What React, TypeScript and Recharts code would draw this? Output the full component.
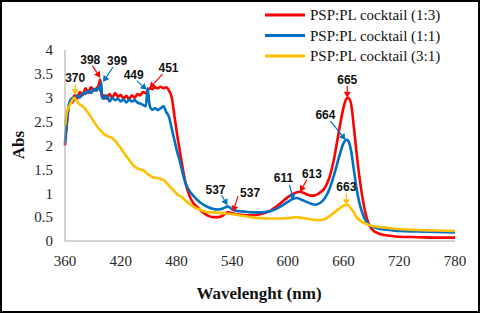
import React from 'react';
import { LineChart, Line, XAxis, YAxis, ReferenceDot, Label } from 'recharts';

const wavelengths = [
  360, 362, 364, 366, 368, 370, 373, 376, 379, 382,
  385, 388, 391, 394, 396, 398, 399, 400, 402, 405,
  408, 411, 414, 417, 420, 423, 426, 429, 432, 435,
  438, 441, 444, 447, 449, 451, 454, 457, 460, 463,
  466, 469, 472, 475, 478, 481, 484, 487, 490, 494,
  498, 502, 506, 510, 515, 520, 525, 530, 535, 537,
  540, 545, 550, 555, 560, 570, 580, 590, 600, 605,
  610, 613, 620, 625, 630, 635, 640, 645, 650, 655,
  660, 663, 665, 668, 671, 674, 677, 680, 684, 688,
  692, 696, 700, 710, 720, 740, 760, 780,
];

const cocktail13 = [
  2.0, 2.45, 2.8, 2.95, 2.9, 3.05, 2.98, 3.12, 3.05, 3.2,
  3.1, 3.22, 3.15, 3.2, 3.25, 3.38, 3.1, 3.02, 3.05, 2.98,
  3.08, 3.0, 3.1, 3.02, 3.06, 2.98, 3.04, 2.97, 3.05, 3.0,
  3.08, 3.05, 3.12, 3.1, 3.15, 3.2, 3.18, 3.22, 3.2, 3.23,
  3.2, 3.22, 3.15, 3.0, 2.6, 2.2, 1.85, 1.5, 1.2, 0.95,
  0.8, 0.72, 0.64, 0.58, 0.52, 0.5, 0.5, 0.53, 0.6, 0.6,
  0.58, 0.56, 0.55, 0.54, 0.54, 0.56, 0.62, 0.76, 0.92, 0.98,
  1.02, 1.03, 0.98, 0.95, 0.96, 1.02, 1.12, 1.35, 1.75, 2.3,
  2.8, 2.98, 3.0, 2.88, 2.4, 1.85, 1.35, 0.95, 0.55, 0.32,
  0.22, 0.17, 0.14, 0.11, 0.09, 0.08, 0.07, 0.07,
];

const cocktail11 = [
  2.05, 2.5, 2.85, 2.95, 3.0, 2.95, 3.05, 3.0, 3.1, 3.08,
  3.15, 3.1, 3.18, 3.15, 3.22, 3.15, 3.33, 3.0, 2.98, 3.05,
  2.92, 3.0, 2.95, 2.98, 2.92, 2.97, 2.9, 2.96, 2.92, 2.95,
  2.9, 2.88, 2.85, 2.82, 3.2, 2.85, 2.75, 2.78, 2.74, 2.78,
  2.82, 2.7, 2.6, 2.35, 2.1, 1.85, 1.65, 1.4, 1.2, 1.05,
  0.95, 0.87, 0.8, 0.75, 0.7, 0.67, 0.66, 0.68, 0.72, 0.71,
  0.66, 0.63, 0.62, 0.61, 0.6, 0.6, 0.62, 0.7, 0.82, 0.88,
  0.9, 0.88, 0.82, 0.78, 0.76, 0.8, 0.9, 1.1, 1.4, 1.75,
  2.05, 2.12, 2.1, 1.9, 1.5, 1.1, 0.8, 0.6, 0.42, 0.33,
  0.29, 0.27, 0.25, 0.23, 0.21, 0.2, 0.19, 0.18,
];

const cocktail31 = [
  2.4, 2.7, 2.8, 2.88, 2.95, 3.0, 2.92, 2.86, 2.82, 2.76,
  2.68, 2.6, 2.5, 2.42, 2.36, 2.32, 2.3, 2.28, 2.24, 2.2,
  2.18, 2.15, 2.1, 2.02, 1.95, 1.86, 1.78, 1.7, 1.62, 1.56,
  1.52, 1.5, 1.48, 1.44, 1.4, 1.38, 1.34, 1.32, 1.32, 1.3,
  1.28, 1.22, 1.16, 1.1, 1.04, 0.98, 0.94, 0.9, 0.84, 0.78,
  0.72, 0.68, 0.65, 0.62, 0.6, 0.6, 0.59, 0.58, 0.57, 0.57,
  0.56, 0.55, 0.53, 0.52, 0.5, 0.48, 0.47, 0.47, 0.48, 0.49,
  0.5, 0.49, 0.47, 0.45, 0.44, 0.44, 0.46, 0.52, 0.6, 0.67,
  0.74, 0.76, 0.75, 0.68, 0.6, 0.5, 0.44, 0.4, 0.36, 0.33,
  0.31, 0.3, 0.29, 0.27, 0.25, 0.23, 0.22, 0.21,
];

const xTicks = [360, 420, 480, 540, 600, 660, 720, 780];
const yTicks = [0, 0.5, 1, 1.5, 2, 2.5, 3, 3.5, 4];

const seriesNames = ['PSP:PL cocktail (1:3)', 'PSP:PL cocktail (1:1)', 'PSP:PL cocktail (3:1)'];

// peak markers: label, wavelength, absorbance at arrow tip, which series
const peakLabels = ['370', '398', '399', '449', '451', '537', '537', '611', '613', '664', '665', '663'];
const peakNm = [371, 398, 401, 448, 451, 535, 541, 606, 613, 662, 664, 663];
const peakAbs = [3.05, 3.42, 3.33, 3.17, 3.2, 0.75, 0.61, 0.86, 1.03, 2.12, 3.0, 0.75];
const peakSeries = [2, 0, 1, 1, 0, 1, 0, 1, 0, 1, 0, 2];

const COLORS = ['#ff0000', '#0070c0', '#ffc000'];

// label offset (dx, dy) and arrow start offset (sx, sy) relative to the tip, px
const peakLayout = [
  [0, -17, 0, -11],
  [-10, -18, -8, -12],
  [14, -21, 10, -15],
  [-13, -15, -10, -9],
  [19, -20, 13, -14],
  [-12, -15, -6, -10],
  [17, -19, 5, -16],
  [-10, -22, -4, -15],
  [12, -18, 7, -12],
  [-20, -25, -15, -19],
  [0, -18, 0, -12],
  [0, -18, 0, -12],
];

const data = wavelengths.map((nm, i) => ({
  nm,
  a: cocktail13[i],
  b: cocktail11[i],
  c: cocktail31[i],
}));

const serif = "'Liberation Serif', 'Times New Roman', serif";

const Marker = (props: any) => {
  const { cx, cy, idx } = props;
  if (cx == null || cy == null) return null;
  const [dx, dy, sx, sy] = peakLayout[idx];
  const color = COLORS[peakSeries[idx]];
  const x1 = cx + sx;
  const y1 = cy + sy;
  const ang = Math.atan2(cy - y1, cx - x1);
  const len = 6;
  const w = 3.5;
  const bx = cx - len * Math.cos(ang);
  const by = cy - len * Math.sin(ang);
  const px = -Math.sin(ang) * w;
  const py = Math.cos(ang) * w;
  return (
    <g>
      <line x1={x1} y1={y1} x2={bx} y2={by} stroke={color} strokeWidth={1.2} />
      <polygon points={`${cx},${cy} ${bx + px},${by + py} ${bx - px},${by - py}`} fill={color} />
      <text
        x={cx + dx}
        y={cy + dy}
        textAnchor="middle"
        dominantBaseline="central"
        fontFamily="'Liberation Sans', Arial, sans-serif"
        fontWeight="bold"
        fontSize={12}
        fill="#111"
      >
        {peakLabels[idx]}
      </text>
    </g>
  );
};

const LegendBox = () => (
  <svg width={215} height={64} style={{ position: 'absolute', left: 262, top: 4 }}>
    {seriesNames.map((name, i) => {
      const y = 11 + i * 20.5;
      return (
        <g key={name}>
          <line x1={3} x2={43} y1={y} y2={y} stroke={COLORS[i]} strokeWidth={3} />
          <text x={48} y={y} dominantBaseline="central" fontFamily={serif} fontSize={15} fill="#111">
            {name}
          </text>
        </g>
      );
    })}
  </svg>
);

const tickStyle = { fontFamily: serif, fontSize: 15, fill: '#262626' };

export default function App() {
  return (
    <div style={{ position: 'relative', width: 480, height: 313, background: '#fff' }}>
      <style>{'body{margin:0}'}</style>
      <LineChart width={480} height={313} data={data} margin={{ top: 50, right: 25, bottom: 12, left: 0 }}>
        <XAxis
          dataKey="nm"
          type="number"
          domain={[360, 780]}
          ticks={xTicks}
          interval={0}
          tickLine={false}
          tickSize={0}
          tickMargin={14}
          axisLine={{ stroke: '#a6a6a6' }}
          tick={tickStyle}
          height={60}
        >
          <Label
            content={() => (
              <text x={259} y={293} textAnchor="middle" dominantBaseline="central" fontFamily={serif} fontWeight="bold" fontSize={17} fill="#111">
                Wavelenght (nm)
              </text>
            )}
          />
        </XAxis>
        <YAxis
          type="number"
          domain={[0, 4]}
          ticks={yTicks}
          interval={0}
          tickLine={false}
          tickSize={0}
          tickMargin={12}
          axisLine={{ stroke: '#a6a6a6' }}
          tick={tickStyle}
          width={65}
        >
          <Label
            content={() => (
              <text
                x={18}
                y={145}
                transform="rotate(-90 18 145)"
                textAnchor="middle"
                dominantBaseline="central"
                fontFamily={serif}
                fontWeight="bold"
                fontSize={17}
                fill="#111"
              >
                Abs
              </text>
            )}
          />
        </YAxis>
        <Line type="monotone" dataKey="a" name={seriesNames[0]} stroke={COLORS[0]} strokeWidth={2.6} dot={false} isAnimationActive={false} />
        <Line type="monotone" dataKey="b" name={seriesNames[1]} stroke={COLORS[1]} strokeWidth={2.6} dot={false} isAnimationActive={false} />
        <Line type="monotone" dataKey="c" name={seriesNames[2]} stroke={COLORS[2]} strokeWidth={2.6} dot={false} isAnimationActive={false} />
        {peakLabels.map((_, i) => (
          <ReferenceDot
            key={i}
            x={peakNm[i]}
            y={peakAbs[i]}
            r={0}
            ifOverflow="visible"
            shape={(p: any) => <Marker {...p} idx={i} />}
          />
        ))}
      </LineChart>
      <LegendBox />
      <div
        style={{
          position: 'absolute',
          left: 0,
          top: 0,
          width: 480,
          height: 313,
          boxSizing: 'border-box',
          border: '2px solid #000',
          pointerEvents: 'none',
        }}
      />
    </div>
  );
}
